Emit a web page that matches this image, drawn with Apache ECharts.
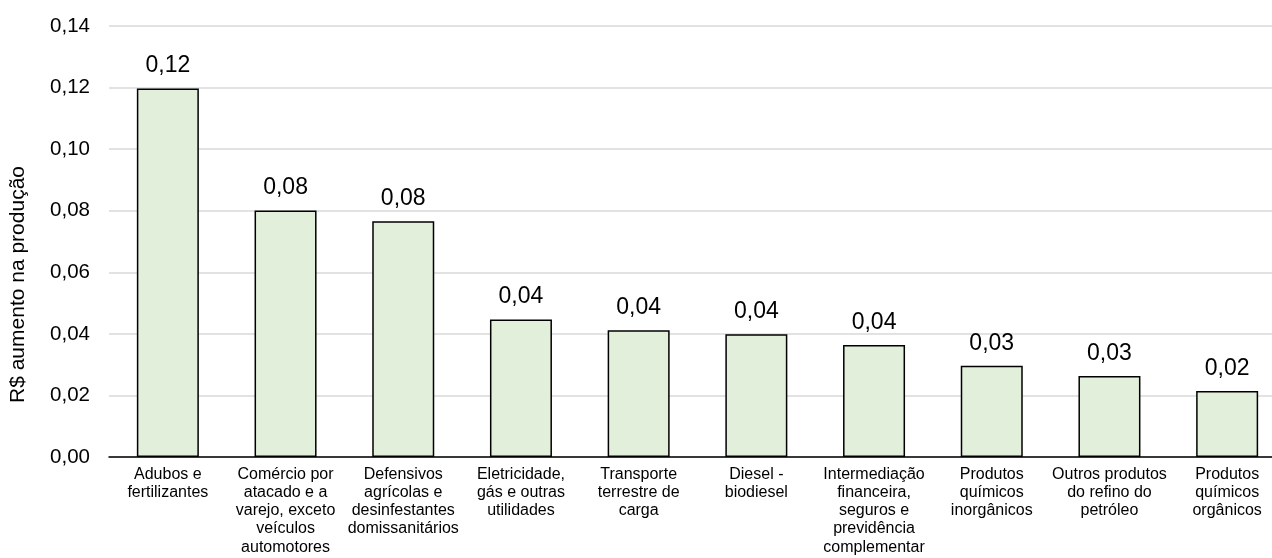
<!DOCTYPE html>
<html>
<head>
<meta charset="utf-8">
<script src="https://cdn.jsdelivr.net/npm/echarts@6/dist/echarts.min.js"></script>
<style>
  html, body { margin: 0; padding: 0; background: #fff; overflow: hidden; }
  /* o gráfico original é cortado à direita: a área útil passa de 1272px */
  #chart { width: 1286px; height: 558px; }
</style>
</head>
<body>
<div id="chart"></div>
<script>
// categorias (quebras de linha como no original)
const categorias = [
    'Adubos e\nfertilizantes',
    'Comércio por\natacado e a\nvarejo, exceto\nveículos\nautomotores',
    'Defensivos\nagrícolas e\ndesinfestantes\ndomissanitários',
    'Eletricidade,\ngás e outras\nutilidades',
    'Transporte\nterrestre de\ncarga',
    'Diesel -\nbiodiesel',
    'Intermediação\nfinanceira,\nseguros e\nprevidência\ncomplementar',
    'Produtos\nquímicos\ninorgânicos',
    'Outros produtos\ndo refino do\npetróleo',
    'Produtos\nquímicos\norgânicos'
];
const valores = [0.1197, 0.0801, 0.0766, 0.0447, 0.0412, 0.0399, 0.0364, 0.0296, 0.0263, 0.0214];
const ticksY = [0, 0.02, 0.04, 0.06, 0.08, 0.10, 0.12, 0.14];

const fmt = v => v.toFixed(2).replace('.', ',');

const chart = echarts.init(document.getElementById('chart'));
chart.setOption({
    animation: false,
    textStyle: { fontFamily: 'Liberation Sans, Arial, sans-serif' },
    grid: { left: 107, right: 0, top: 26, bottom: 101, containLabel: false },
    xAxis: {
        type: 'category',
        data: categorias,
        axisLine: { lineStyle: { color: '#000', width: 1.5 } },
        axisTick: { show: false },
        axisLabel: {
            color: '#000',
            fontSize: 16,
            lineHeight: 18.3,
            margin: 8,
            interval: 0
        }
    },
    yAxis: {
        type: 'value',
        min: ticksY[0],
        max: ticksY[ticksY.length - 1],
        interval: 0.02,
        name: 'R$ aumento na produção',
        nameLocation: 'middle',
        nameGap: 80,
        nameTextStyle: { color: '#000', fontSize: 21, padding: [0, 86, 0, 0] },
        axisLine: { show: false },
        axisTick: { show: false },
        axisLabel: { color: '#000', fontSize: 20.5, margin: 19, formatter: fmt },
        splitLine: { lineStyle: { color: '#d9d9d9', width: 1.5 } }
    },
    series: [{
        type: 'bar',
        data: valores,
        barWidth: 62,
        itemStyle: { color: '#e2efda', borderColor: '#000', borderWidth: 1.5 },
        label: {
            show: true,
            position: 'top',
            distance: 11,
            color: '#000',
            fontSize: 23,
            formatter: p => fmt(p.value)
        }
    }]
});
</script>
</body>
</html>
